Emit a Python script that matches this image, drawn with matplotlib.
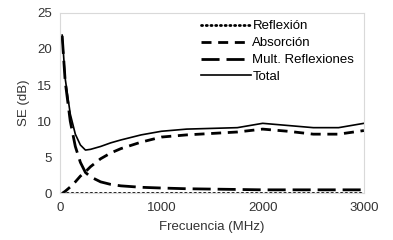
import matplotlib
matplotlib.use("Agg")
import matplotlib.pyplot as plt

plt.rcParams['font.family'] = ['Liberation Sans', 'DejaVu Sans']

# frequencies (MHz) and shielding effectiveness components (dB)
freq = [20, 50, 100, 150, 200, 250, 300, 400, 500, 600, 800, 1000,
        1250, 1500, 1750, 2000, 2250, 2500, 2750, 3000]
reflexion = [0.1] * len(freq)
absorcion = [0.0, 0.3, 0.9, 1.6, 2.4, 3.0, 3.7, 4.8, 5.6, 6.2, 7.1, 7.8,
             8.1, 8.3, 8.5, 8.9, 8.6, 8.2, 8.2, 8.7]
mult_refl = [21.8, 15.5, 10.0, 6.5, 4.3, 2.9, 2.3, 1.6, 1.25, 1.05, 0.85, 0.75,
             0.65, 0.6, 0.55, 0.5, 0.5, 0.5, 0.5, 0.5]
total = [21.9, 15.9, 11.0, 8.2, 6.7, 6.0, 6.1, 6.5, 7.0, 7.4, 8.1, 8.6,
         8.9, 9.0, 9.1, 9.7, 9.4, 9.1, 9.1, 9.7]

fig = plt.figure(figsize=(3.93, 2.4), dpi=100)
ax = fig.add_axes([0.153, 0.194, 0.773, 0.753])

ax.plot(freq, reflexion, color='black', lw=2.0, linestyle=(0, (0.4, 1.3)),
        dash_capstyle='round', label='Reflexión')
ax.plot(freq, absorcion, color='black', lw=2.0, linestyle=(0, (3.6, 2.4)), label='Absorción')
ax.plot(freq, mult_refl, color='black', lw=2.0, linestyle=(0, (6.5, 2.5)), label='Mult. Reflexiones')
ax.plot(freq, total, color='black', lw=1.2, label='Total')

ax.set_xlim(0, 3000)
ax.set_ylim(0, 25)
ax.set_xticks([0, 1000, 2000, 3000])
ax.set_yticks([0, 5, 10, 15, 20, 25])
ax.tick_params(length=0, labelsize=9.5, colors='#333333', pad=6)
for s in ax.spines.values():
    s.set_color('#d9d9d9')
    s.set_linewidth(0.8)

ax.set_xlabel('Frecuencia (MHz)', fontsize=9.5, color='#333333', labelpad=5)
ax.set_ylabel('SE (dB)', fontsize=9.5, color='#333333', labelpad=5)

ax.legend(loc='upper right', frameon=False, fontsize=9.5, handlelength=3.8,
          handletextpad=0.1, labelspacing=0.35, borderaxespad=0.1,
          bbox_to_anchor=(0.99, 0.995))

fig.savefig('out.png', dpi=100)
